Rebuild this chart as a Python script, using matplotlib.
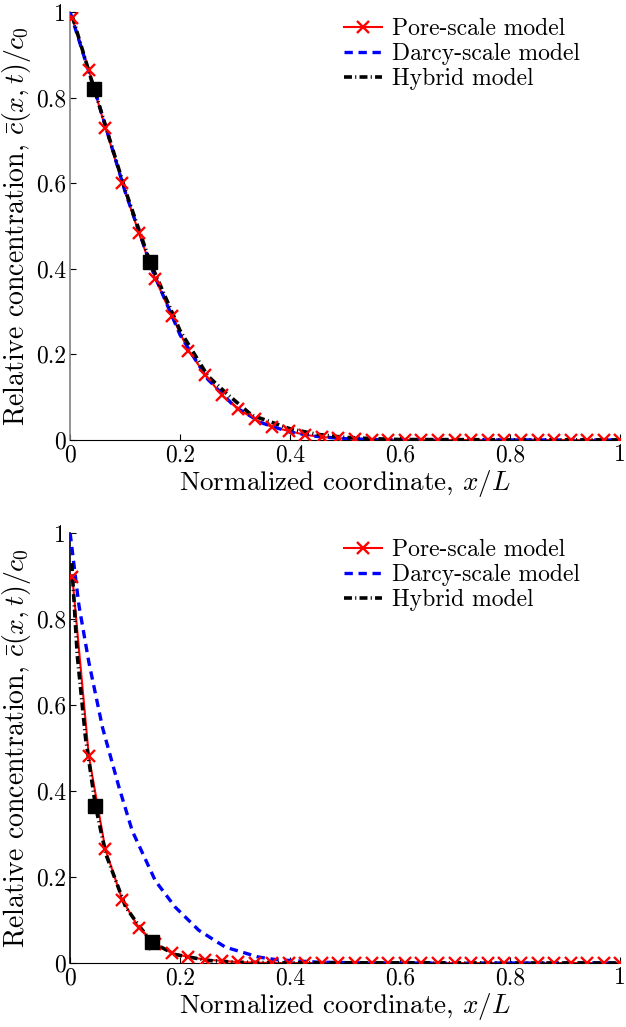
import matplotlib
matplotlib.use("Agg")
import matplotlib.pyplot as plt
from matplotlib.lines import Line2D
from matplotlib.ticker import FuncFormatter

# =============================================
# DATOS
# =============================================
# posiciones de los marcadores del modelo de poro
x_poro = [0.004, 0.034, 0.064, 0.095, 0.125, 0.155, 0.185, 0.215, 0.246, 0.276,
          0.306, 0.336, 0.366, 0.397, 0.427, 0.457, 0.487, 0.517, 0.548, 0.578,
          0.608, 0.638, 0.668, 0.699, 0.729, 0.759, 0.789, 0.819, 0.850, 0.880,
          0.910, 0.940, 0.970, 1.000]

# caso 1 (arriba)
c_poro_1 = [0.985, 0.864, 0.73, 0.601, 0.483, 0.376, 0.29, 0.209, 0.152, 0.104,
            0.072, 0.048, 0.031, 0.021, 0.012, 0.007, 0.004, 0.003, 0.001, 0.001,
            0, 0, 0, 0, 0, 0, 0, 0, 0, 0, 0, 0, 0, 0]
x_darcy_1 = [0.0, 0.05, 0.1, 0.15, 0.2, 0.25, 0.3, 0.35, 0.4, 0.45, 0.5, 0.55, 0.6, 1.0]
c_darcy_1 = [1.0, 0.795, 0.58, 0.395, 0.245, 0.142, 0.077, 0.039, 0.018, 0.008, 0.003, 0.001, 0.0, 0.0]
x_hib_1 = [0.004, 0.044, 0.1, 0.145, 0.2, 0.25, 0.284, 0.33, 0.4, 0.45, 0.5, 0.55, 0.6, 1.0]
c_hib_1 = [0.99, 0.819, 0.585, 0.417, 0.255, 0.15, 0.109, 0.058, 0.026, 0.013, 0.006, 0.003, 0.001, 0.0]
x_cuad_1 = [0.044, 0.145]
c_cuad_1 = [0.819, 0.417]

# caso 2 (abajo)
c_poro_2 = [0.898, 0.481, 0.265, 0.146, 0.082, 0.045, 0.023, 0.014, 0.008, 0.005,
            0.002, 0.001, 0, 0, 0, 0, 0, 0, 0, 0,
            0, 0, 0, 0, 0, 0, 0, 0, 0, 0, 0, 0, 0, 0]
x_darcy_2 = [0.0, 0.016, 0.034, 0.059, 0.089, 0.113, 0.155, 0.191, 0.234, 0.282,
             0.342, 0.373, 0.45, 0.55, 1.0]
c_darcy_2 = [1.0, 0.832, 0.70, 0.547, 0.408, 0.307, 0.191, 0.13, 0.076, 0.037,
             0.014, 0.008, 0.002, 0.0, 0.0]
x_hib_2 = [0.003, 0.013, 0.028, 0.046, 0.065, 0.101, 0.125, 0.148, 0.19, 0.25, 0.3, 0.4, 1.0]
c_hib_2 = [0.93, 0.716, 0.524, 0.366, 0.253, 0.13, 0.087, 0.049, 0.02, 0.006, 0.002, 0.0005, 0.0]
x_cuad_2 = [0.046, 0.148]
c_cuad_2 = [0.366, 0.049]

# =============================================
# ESTILO
# =============================================
plt.rcParams['font.family'] = ['cmr10', 'DejaVu Serif']
plt.rcParams['mathtext.fontset'] = 'cm'
plt.rcParams['axes.formatter.use_mathtext'] = True

DASH_AZUL = (2.5, 1.7)
DASH_NEGRO = (2.2, 0.9, 0.3, 0.9)


def fmt(v, pos):
    if abs(v) < 1e-9:
        return "0"
    if abs(v - 1) < 1e-9:
        return "1"
    return f"{v:.1f}"


def dibujar(ax, cp, xd, cd, xh, ch, xs, cs, color_eje_y):
    ax.plot(x_poro, cp, '-', color='red', lw=1.5, zorder=2)
    ax.plot(xd, cd, '--', color='blue', lw=2.4, dashes=DASH_AZUL, zorder=3)
    ax.plot(xh, ch, '-.', color='black', lw=2.6, dashes=DASH_NEGRO, zorder=4)
    ax.plot(x_poro, cp, 'x', color='red', ms=8, mew=1.7, zorder=5)
    ax.plot(xs, cs, 's', color='black', ms=10.5, zorder=6)

    ax.set_xlim(0, 1)
    ax.set_ylim(0, 1)
    ax.set_xticks([0, 0.2, 0.4, 0.6, 0.8, 1])
    ax.set_yticks([0, 0.2, 0.4, 0.6, 0.8, 1])
    ax.xaxis.set_major_formatter(FuncFormatter(fmt))
    ax.yaxis.set_major_formatter(FuncFormatter(fmt))
    ax.spines['top'].set_visible(False)
    ax.spines['right'].set_visible(False)
    ax.spines['left'].set_color(color_eje_y)
    ax.spines['left'].set_linewidth(1.2)
    ax.tick_params(direction='in', length=4, labelsize=17, pad=3)
    ax.set_xlabel("Normalized coordinate, $x/L$", fontsize=19.5, labelpad=1)
    ax.set_ylabel(r"Relative concentration, $\bar{c}(x,t)/c_0$", fontsize=20)
    ax.yaxis.set_label_coords(-0.068, 0.5)

    handles = [
        Line2D([], [], color='red', lw=1.5, marker='x', ms=8, mew=1.7),
        Line2D([], [], color='blue', lw=2.4, ls='--', dashes=DASH_AZUL),
        Line2D([], [], color='black', lw=2.6, ls='-.', dashes=DASH_NEGRO),
    ]
    ax.legend(handles, ["Pore-scale model", "Darcy-scale model", "Hybrid model"],
              loc='upper left', bbox_to_anchor=(0.498, 0.986), frameon=False,
              borderpad=0, borderaxespad=0,
              fontsize=17, handlelength=1.6, handletextpad=0.42, labelspacing=0.12)


fig = plt.figure(figsize=(6.26, 10.27), dpi=100)
ax1 = fig.add_axes([0.112, 0.5716, 0.879, 0.4167])
ax2 = fig.add_axes([0.112, 0.0623, 0.879, 0.4187])

dibujar(ax1, c_poro_1, x_darcy_1, c_darcy_1, x_hib_1, c_hib_1, x_cuad_1, c_cuad_1, '#808080')
dibujar(ax2, c_poro_2, x_darcy_2, c_darcy_2, x_hib_2, c_hib_2, x_cuad_2, c_cuad_2, 'black')

fig.savefig("out.png", dpi=100)
